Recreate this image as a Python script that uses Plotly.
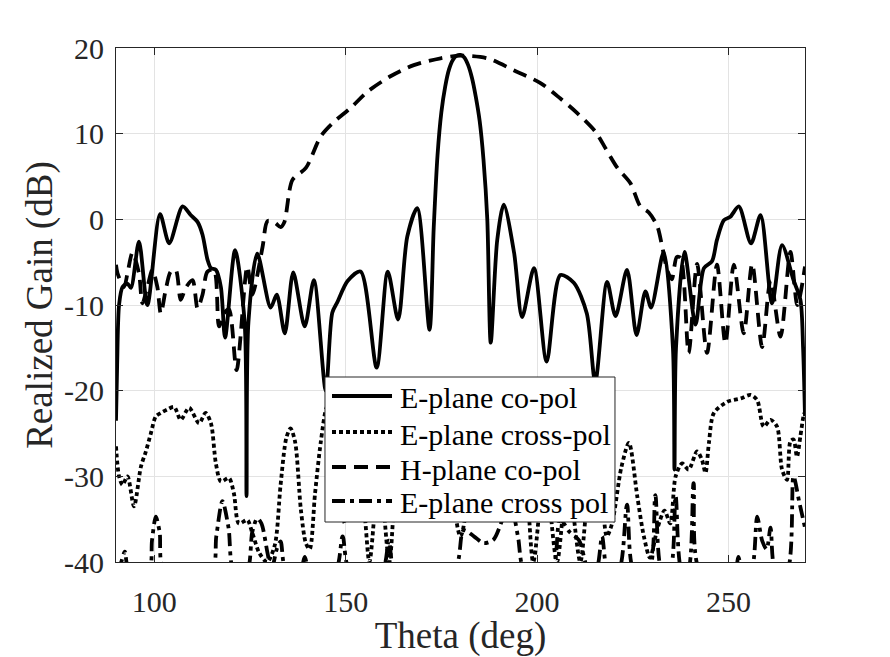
import plotly.graph_objects as go

# ---------------- data ----------------
theta_e_co = [90.0, 90.3, 90.8, 91.7, 93.0, 93.9, 96.0, 98.2, 101.5, 103.9, 107.4, 109.5, 111.3,
              112.6, 113.9, 114.8, 116.1, 117.4, 118.5, 121.1, 123.6, 124.1, 124.6, 126.9, 130.4,
              132.0, 134.1, 136.3, 139.3, 141.7, 144.8, 146.5, 147.8, 150.5, 153.9, 158.1, 161.0,
              163.7, 166.1, 168.7, 171.9, 173.0, 174.0, 175.0, 176.0, 177.0, 178.0, 179.0, 180.0,
              181.0, 182.0, 183.0, 184.0, 185.0, 186.0, 187.0, 187.9, 189.6, 191.3, 194.0, 196.1,
              199.2, 202.5, 206.1, 209.6, 213.0, 215.2, 218.3, 220.5, 223.5, 226.0, 228.3, 229.8,
              233.1, 235.5, 235.9, 236.3, 238.5, 241.4, 243.6, 245.7, 247.0, 248.8, 250.5, 252.7,
              255.9, 258.4, 261.4, 264.0, 267.0, 268.8, 269.5, 270.0]
gain_e_co = [-23.5, -17.0, -10.0, -7.9, -7.5, -8.0, -2.6, -10.0, 0.6, -2.8, 1.5, 0.5, -0.3,
             -1.8, -4.7, -5.7, -5.9, -7.9, -13.8, -3.6, -12.0, -32.3, -12.0, -4.0, -10.3,
             -8.8, -13.3, -6.2, -12.5, -7.1, -20.0, -10.9, -9.7, -7.2, -6.1, -17.3, -6.1,
             -11.7, -2.0, 1.3, -12.9, -1.0, 7.5, 12.5, 15.5, 17.5, 18.6, 19.1, 19.2,
             18.9, 18.0, 16.5, 14.3, 11.5, 7.0, 0.0, -14.4, -2.4, 1.7, -3.9, -11.4,
             -5.7, -16.6, -6.5, -7.4, -11.0, -19.0, -7.3, -11.3, -5.9, -13.5, -8.4, -10.3,
             -3.8, -15.0, -29.2, -15.0, -3.8, -12.3, -5.7, -4.9, -2.4, -0.1, 0.3, 1.5,
             -2.8, 0.5, -9.8, -3.0, -7.1, -9.4, -15.0, -23.0]

theta_e_x = [90.0, 90.8, 91.7, 93.0, 94.7, 96.5, 97.8, 99.1, 100.4, 101.7, 103.4, 105.2, 106.9,
             109.1, 111.7, 113.4, 114.8, 116.1, 117.4, 119.5, 120.8, 122.1, 124.3, 125.6, 127.5,
             129.5, 131.5, 133.0, 134.5, 135.6, 136.8, 138.3, 139.6, 140.6, 142.0, 143.5, 145.0,
             146.5, 148.0, 149.8, 152.0, 154.5, 156.2, 158.8, 161.4, 164.0, 167.0, 170.0, 173.0,
             176.0, 180.0, 184.0, 187.0, 190.0, 193.0, 196.0, 199.0, 202.0, 205.2, 208.0, 211.3,
             213.5, 215.2, 216.6, 218.2, 219.6, 222.0, 224.0, 226.2, 227.9, 229.5, 231.5, 233.3,
             234.8, 236.2, 237.9, 239.6, 241.8, 243.1, 244.0, 244.9, 246.2, 249.7, 253.2, 255.8,
             257.5, 259.2, 261.0, 262.7, 264.0, 265.3, 266.2, 267.0, 267.9, 268.8, 269.6, 270.0]
gain_e_x = [-26.5, -30.0, -31.0, -30.0, -33.5, -28.9, -27.1, -25.0, -23.0, -22.6, -22.2, -21.9, -23.4,
            -22.0, -23.8, -22.6, -23.8, -28.5, -30.6, -30.2, -32.0, -35.5, -35.1, -36.6, -39.0,
            -40.0, -38.0, -31.0, -25.5, -24.4, -26.0, -33.9, -37.8, -38.5, -32.0, -26.0, -22.0,
            -21.0, -27.0, -35.5, -30.0, -33.0, -40.0, -29.0, -40.0, -27.0, -31.0, -26.0, -32.0,
            -28.0, -37.0, -28.0, -31.0, -26.0, -29.0, -27.0, -40.0, -29.0, -40.0, -30.0, -40.0,
            -32.0, -35.0, -31.5, -37.0, -35.5, -29.0, -26.1, -32.4, -37.0, -39.5, -36.0, -34.0,
            -35.5, -30.0, -28.5, -29.2, -27.1, -28.1, -29.6, -26.1, -22.6, -21.3, -20.9, -20.5,
            -21.1, -24.2, -23.4, -24.2, -29.2, -30.4, -25.9, -25.7, -27.7, -25.3, -23.0, -22.5]

theta_h_co = [90.0, 90.4, 92.1, 93.0, 94.3, 96.0, 96.9, 98.2, 99.5, 100.8, 101.7, 103.0, 104.3,
              105.6, 106.9, 108.2, 110.0, 111.3, 112.6, 113.9, 115.6, 116.9, 118.2, 119.5, 121.5,
              124.3, 125.6, 128.3, 129.6, 131.5, 133.0, 134.0, 136.1, 139.6, 143.5, 146.5, 151.3,
              155.7, 161.7, 167.8, 174.8, 180.0, 187.0, 193.9, 200.9, 206.1, 210.5, 215.3, 218.0,
              221.0, 224.4, 227.0, 229.2, 231.4, 232.7, 234.0, 235.2, 236.5, 237.5, 239.6, 241.8,
              244.4, 247.0, 249.2, 251.4, 254.0, 256.2, 258.8, 261.0, 263.6, 266.2, 268.0, 270.0]
gain_h_co = [-5.3, -6.3, -7.9, -6.3, -3.9, -6.3, -9.8, -7.9, -5.9, -7.9, -11.0, -8.2, -6.1,
             -5.9, -9.4, -8.0, -7.1, -10.4, -8.8, -6.1, -5.9, -12.5, -11.0, -10.5, -17.6,
             -5.5, -8.8, -3.2, -0.2, -0.4, -0.9, -0.3, 4.6, 6.0, 9.7, 11.2, 13.0,
             14.9, 16.7, 18.0, 18.8, 19.1, 18.8, 17.4, 15.9, 14.1, 12.4, 10.2, 8.2,
             6.0, 4.2, 1.5, 0.8, -0.8, -3.2, -5.9, -7.0, -4.4, -4.5, -15.6, -5.2,
             -15.6, -5.3, -14.5, -5.3, -13.3, -5.2, -14.9, -7.1, -13.7, -3.8, -10.0, -5.5]

theta_e_x2 = [90.0, 91.2, 92.3, 93.4, 98.6, 99.4, 100.4, 101.4, 102.6, 115.0, 116.2, 117.8, 119.4,
              120.8, 124.2, 125.6, 126.9, 128.0, 129.6, 130.6, 132.0, 133.0, 134.4, 138.2, 139.3,
              140.6, 147.3, 149.2, 151.1, 159.5, 161.3, 163.0, 178.3, 180.8, 183.5, 186.0, 188.6,
              191.0, 193.0, 195.0, 196.8, 203.8, 206.0, 208.5, 211.0, 213.5, 215.4, 217.0, 218.5,
              221.3, 223.5, 225.3, 229.2, 230.9, 232.6, 234.7, 236.2, 237.8, 239.4, 240.9, 242.6,
              251.6, 252.6, 253.6, 255.9, 257.5, 258.8, 260.0, 261.0, 262.3, 265.3, 267.0, 268.5,
              270.0]
gain_e_x2 = [-41.0, -40.2, -38.8, -41.0, -41.0, -37.5, -34.7, -36.5, -41.0, -41.0, -37.0, -32.9, -36.0,
             -41.0, -41.0, -36.5, -34.9, -35.5, -39.0, -41.0, -38.5, -37.6, -41.0, -41.0, -39.4,
             -41.0, -41.0, -37.0, -41.0, -41.0, -37.5, -41.0, -41.0, -36.3, -37.0, -37.8, -37.4,
             -35.0, -33.0, -37.0, -41.0, -41.0, -35.0, -36.5, -37.5, -41.0, -41.0, -37.0, -41.0,
             -41.0, -33.3, -41.0, -41.0, -32.2, -41.0, -41.0, -32.3, -41.0, -41.0, -30.8, -41.0,
             -41.0, -39.4, -41.0, -41.0, -34.7, -37.5, -38.5, -36.0, -41.0, -41.0, -30.0, -33.0,
             -36.0]

x_ticks = [100, 150, 200, 250]
y_ticks = [-40, -30, -20, -10, 0, 10, 20]
y_tick_text = ["-40", "-30", "-20", "-10", "0", "10", "20"]
names = ["E-plane co-pol", "E-plane cross-pol", "H-plane co-pol", "E-plane cross pol"]

# ---------------- styles ----------------
LW = 3.8
dashes = ["solid", "4px,3px", "14px,8px", "13px,5px,4px,5px"]
series = [(theta_e_co, gain_e_co), (theta_e_x, gain_e_x), (theta_h_co, gain_h_co), (theta_e_x2, gain_e_x2)]

fig = go.Figure()
for (tx, gy), nm, ds in zip(series, names, dashes):
    fig.add_trace(go.Scatter(x=tx, y=gy, mode="lines", name=nm, showlegend=False,
                             line=dict(color="black", width=LW, dash=ds, shape="spline", smoothing=0.8)))

axis_common = dict(
    showgrid=True, gridcolor="#e3e3e3", gridwidth=1,
    showline=True, linecolor="#262626", linewidth=1, mirror="ticks",
    ticks="inside", ticklen=7, tickcolor="#262626", zeroline=False,
    tickfont=dict(size=30, color="#262626"), automargin=False,
)

# ---------------- legend box (drawn in paper coordinates) ----------------
LEG_X0, LEG_X1, LEG_Y0, LEG_Y1 = 0.3033, 0.7242, 0.0778, 0.3599
SAMPLE_X0, SAMPLE_X1, TEXT_X = 0.3135, 0.4006, 0.4093
ROW_LINE_Y = [0.3230, 0.2529, 0.1848, 0.1187]
ROW_TEXT_Y = [0.3191, 0.2490, 0.1809, 0.1148]

shapes = [dict(type="rect", xref="paper", yref="paper", x0=LEG_X0, x1=LEG_X1, y0=LEG_Y0, y1=LEG_Y1,
               fillcolor="white", line=dict(color="#262626", width=1), layer="above")]
annotations = []
for nm, ds, ly, ty in zip(names, dashes, ROW_LINE_Y, ROW_TEXT_Y):
    shapes.append(dict(type="line", xref="paper", yref="paper", x0=SAMPLE_X0, x1=SAMPLE_X1, y0=ly, y1=ly,
                       line=dict(color="black", width=LW, dash=ds), layer="above"))
    annotations.append(dict(text=nm, xref="paper", yref="paper", x=TEXT_X, y=ty, xanchor="left",
                            yanchor="middle", showarrow=False, font=dict(size=30, color="black")))

fig.update_layout(
    width=890, height=657,
    margin=dict(l=116, r=85, t=48, b=95),
    paper_bgcolor="white", plot_bgcolor="white",
    font=dict(family="Liberation Serif, Times New Roman, serif", size=30, color="#262626"),
    xaxis=dict(range=[90, 270], tickvals=x_ticks, ticklabelstandoff=13,
               title=dict(text="Theta (deg)", font=dict(size=37), standoff=6), **axis_common),
    yaxis=dict(range=[-40, 20], tickvals=y_ticks, ticktext=y_tick_text, ticklabelstandoff=5,
               title=dict(text="Realized Gain (dB)", font=dict(size=37), standoff=0), **axis_common),
    shapes=shapes, annotations=annotations,
    showlegend=False,
)

fig.write_html("out.html")
